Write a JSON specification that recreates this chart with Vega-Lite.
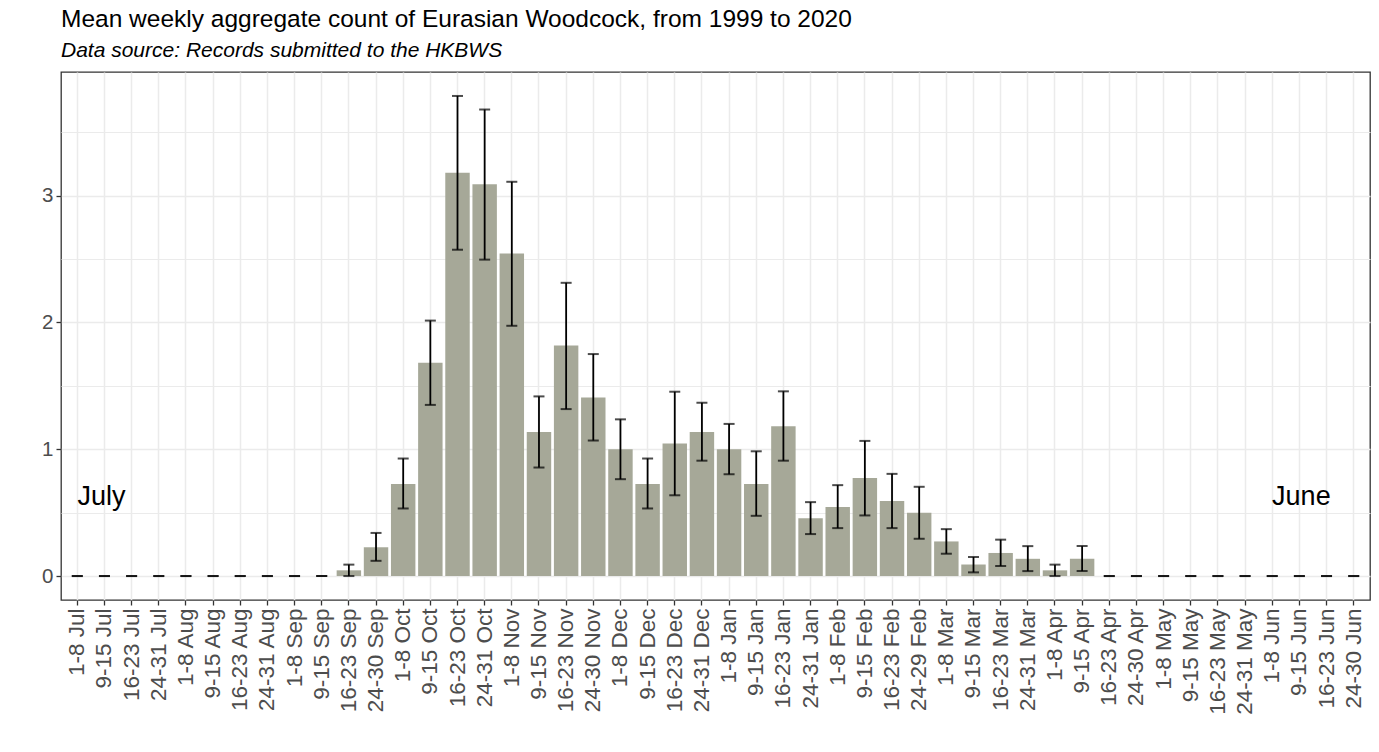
{
  "$schema": "https://vega.github.io/schema/vega-lite/v6.json",
  "width": 1309,
  "height": 528,
  "autosize": {"type": "none"},
  "padding": {"left": 61, "top": 72, "right": 9, "bottom": 152},
  "background": "#ffffff",
  "title": {
    "text": "Mean weekly aggregate count of Eurasian Woodcock, from 1999 to 2020",
    "subtitle": "Data source: Records submitted to the HKBWS",
    "anchor": "start",
    "frame": "group",
    "font": "Liberation Sans",
    "fontSize": 24.5,
    "fontWeight": "normal",
    "color": "#000000",
    "subtitleFont": "Liberation Sans",
    "subtitleFontSize": 21,
    "subtitleFontStyle": "italic",
    "subtitleColor": "#000000",
    "subtitlePadding": 8,
    "offset": 10
  },
  "config": {
    "view": {"stroke": "#333333", "strokeWidth": 1.3},
    "axis": {"labelFont": "Liberation Sans", "titleFont": "Liberation Sans"}
  },
  "data": {
    "values": [
      {"week": "1-8 Jul", "mean": 0, "lo": 0, "hi": 0},
      {"week": "9-15 Jul", "mean": 0, "lo": 0, "hi": 0},
      {"week": "16-23 Jul", "mean": 0, "lo": 0, "hi": 0},
      {"week": "24-31 Jul", "mean": 0, "lo": 0, "hi": 0},
      {"week": "1-8 Aug", "mean": 0, "lo": 0, "hi": 0},
      {"week": "9-15 Aug", "mean": 0, "lo": 0, "hi": 0},
      {"week": "16-23 Aug", "mean": 0, "lo": 0, "hi": 0},
      {"week": "24-31 Aug", "mean": 0, "lo": 0, "hi": 0},
      {"week": "1-8 Sep", "mean": 0, "lo": 0, "hi": 0},
      {"week": "9-15 Sep", "mean": 0, "lo": 0, "hi": 0},
      {"week": "16-23 Sep", "mean": 0.045, "lo": 0, "hi": 0.09},
      {"week": "24-30 Sep", "mean": 0.227, "lo": 0.12, "hi": 0.34},
      {"week": "1-8 Oct", "mean": 0.727, "lo": 0.533, "hi": 0.927},
      {"week": "9-15 Oct", "mean": 1.682, "lo": 1.35, "hi": 2.015},
      {"week": "16-23 Oct", "mean": 3.182, "lo": 2.574, "hi": 3.787},
      {"week": "24-31 Oct", "mean": 3.091, "lo": 2.496, "hi": 3.68},
      {"week": "1-8 Nov", "mean": 2.545, "lo": 1.974, "hi": 3.11},
      {"week": "9-15 Nov", "mean": 1.136, "lo": 0.856, "hi": 1.417},
      {"week": "16-23 Nov", "mean": 1.818, "lo": 1.317, "hi": 2.313},
      {"week": "24-30 Nov", "mean": 1.409, "lo": 1.069, "hi": 1.751},
      {"week": "1-8 Dec", "mean": 1.0, "lo": 0.764, "hi": 1.236},
      {"week": "9-15 Dec", "mean": 0.727, "lo": 0.533, "hi": 0.927},
      {"week": "16-23 Dec", "mean": 1.045, "lo": 0.637, "hi": 1.454},
      {"week": "24-31 Dec", "mean": 1.136, "lo": 0.91, "hi": 1.367},
      {"week": "1-8 Jan", "mean": 1.0, "lo": 0.803, "hi": 1.2},
      {"week": "9-15 Jan", "mean": 0.727, "lo": 0.475, "hi": 0.984},
      {"week": "16-23 Jan", "mean": 1.182, "lo": 0.91, "hi": 1.457},
      {"week": "24-31 Jan", "mean": 0.455, "lo": 0.331, "hi": 0.583},
      {"week": "1-8 Feb", "mean": 0.545, "lo": 0.378, "hi": 0.717},
      {"week": "9-15 Feb", "mean": 0.773, "lo": 0.478, "hi": 1.066},
      {"week": "16-23 Feb", "mean": 0.591, "lo": 0.378, "hi": 0.806},
      {"week": "24-29 Feb", "mean": 0.5, "lo": 0.294, "hi": 0.704},
      {"week": "1-8 Mar", "mean": 0.273, "lo": 0.176, "hi": 0.37},
      {"week": "9-15 Mar", "mean": 0.091, "lo": 0.029, "hi": 0.15},
      {"week": "16-23 Mar", "mean": 0.182, "lo": 0.079, "hi": 0.287},
      {"week": "24-31 Mar", "mean": 0.136, "lo": 0.039, "hi": 0.236},
      {"week": "1-8 Apr", "mean": 0.045, "lo": 0, "hi": 0.09},
      {"week": "9-15 Apr", "mean": 0.136, "lo": 0.039, "hi": 0.236},
      {"week": "16-23 Apr", "mean": 0, "lo": 0, "hi": 0},
      {"week": "24-30 Apr", "mean": 0, "lo": 0, "hi": 0},
      {"week": "1-8 May", "mean": 0, "lo": 0, "hi": 0},
      {"week": "9-15 May", "mean": 0, "lo": 0, "hi": 0},
      {"week": "16-23 May", "mean": 0, "lo": 0, "hi": 0},
      {"week": "24-31 May", "mean": 0, "lo": 0, "hi": 0},
      {"week": "1-8 Jun", "mean": 0, "lo": 0, "hi": 0},
      {"week": "9-15 Jun", "mean": 0, "lo": 0, "hi": 0},
      {"week": "16-23 Jun", "mean": 0, "lo": 0, "hi": 0},
      {"week": "24-30 Jun", "mean": 0, "lo": 0, "hi": 0}
    ]
  },
  "encoding": {
    "x": {
      "field": "week",
      "type": "nominal",
      "sort": null,
      "scale": {"paddingInner": 0.1, "paddingOuter": 0.15},
      "axis": {
        "title": null,
        "labelAngle": 270,
        "labelFontSize": 22.5,
        "labelColor": "#4d4d4d",
        "labelPadding": 3,
        "tickColor": "#333333",
        "tickSize": 5,
        "tickWidth": 1.3,
        "bandPosition": 0.5,
        "grid": true,
        "gridColor": "#ebebeb",
        "gridWidth": 1.5,
        "domain": false
      }
    }
  },
  "layer": [
    {
      "mark": {"type": "bar", "color": "#a6a898"},
      "encoding": {
        "y": {
          "field": "mean",
          "type": "quantitative",
          "scale": {"domain": [-0.189, 3.976], "nice": false, "zero": false},
          "axis": {
            "title": null,
            "values": [0, 0.5, 1, 1.5, 2, 2.5, 3, 3.5],
            "labelExpr": "datum.value % 1 === 0 ? format(datum.value, 'd') : ''",
            "labelFontSize": 20.5,
            "labelColor": "#4d4d4d",
            "labelPadding": 3,
            "tickSize": 5,
            "tickWidth": 1.3,
            "tickColor": {"condition": {"test": "datum.value % 1 !== 0", "value": "transparent"}, "value": "#333333"},
            "grid": true,
            "gridColor": "#ebebeb",
            "gridWidth": {"condition": {"test": "datum.value % 1 !== 0", "value": 1}, "value": 1.6},
            "domain": false
          }
        },
        "y2": {"datum": 0}
      }
    },
    {
      "mark": {"type": "rule", "color": "#000000", "strokeWidth": 1.8},
      "encoding": {
        "y": {"field": "lo", "type": "quantitative", "title": null},
        "y2": {"field": "hi"}
      }
    },
    {
      "mark": {"type": "tick", "color": "#000000", "size": 11, "thickness": 2},
      "encoding": {
        "y": {"field": "lo", "type": "quantitative", "title": null}
      }
    },
    {
      "mark": {"type": "tick", "color": "#000000", "size": 11, "thickness": 2},
      "encoding": {
        "y": {"field": "hi", "type": "quantitative", "title": null}
      }
    },
    {
      "data": {"values": [{"month": "July", "at": "9-15 Jul"}]},
      "mark": {"type": "text", "font": "Liberation Sans", "fontSize": 27, "color": "#000000", "align": "center", "baseline": "middle", "dx": -3},
      "encoding": {
        "x": {"field": "at", "type": "nominal", "sort": null},
        "y": {"datum": 0.62},
        "text": {"field": "month"}
      }
    },
    {
      "data": {"values": [{"month": "June", "at": "9-15 Jun"}]},
      "mark": {"type": "text", "font": "Liberation Sans", "fontSize": 27, "color": "#000000", "align": "center", "baseline": "middle", "dx": 2},
      "encoding": {
        "x": {"field": "at", "type": "nominal", "sort": null},
        "y": {"datum": 0.62},
        "text": {"field": "month"}
      }
    }
  ]
}
